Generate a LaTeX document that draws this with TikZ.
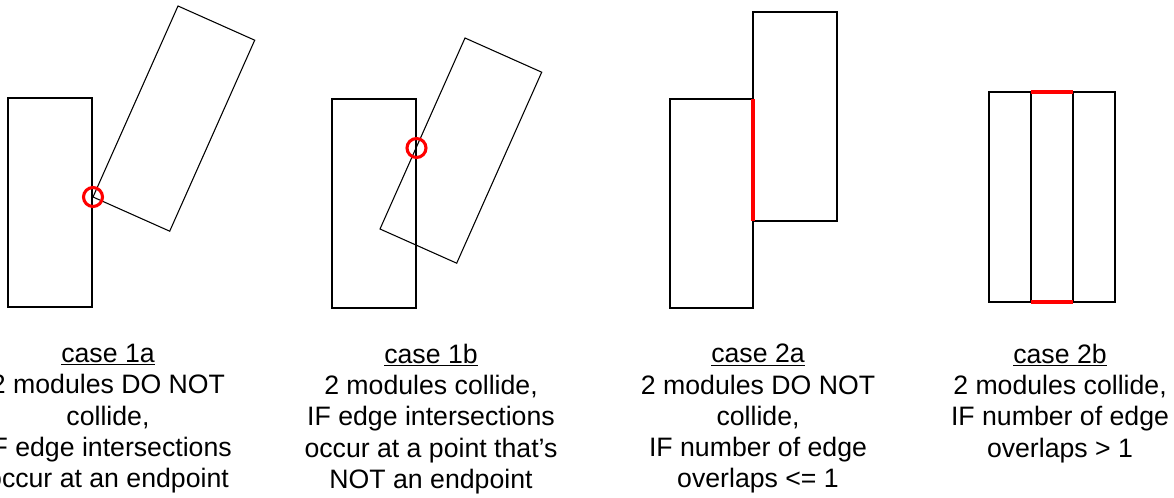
\documentclass[tikz,border=0pt]{standalone}
\usepackage{fontspec}
\setmainfont{Liberation Sans}
\begin{document}
\begin{tikzpicture}[x=0.75pt,y=-0.75pt,
  module/.style={draw=black, line width=0.8pt},
  hit/.style={draw=red, line width=2.3pt},
  caption/.style={align=center, font=\fontsize{20}{23.4}\selectfont, anchor=north, inner sep=0pt}]
\useasboundingbox (0,0) rectangle (1174,498);
\clip (0,0) rectangle (1174,498);

% case 1a
\draw[module] (8,98) rectangle (92,307);
\coordinate (p1a) at (93,197);
\draw[module] (p1a) -- ++(85,-191) -- ++(76.7,34.2) -- ++(-85,191) -- cycle;
\draw[hit] (p1a) circle[radius=9.5];
\node[caption] (cap1a) at (108,344) {\underline{case 1a}\\2 modules DO NOT\\collide,\\IF edge intersections\\occur at an endpoint};

% case 1b
\draw[module] (332,99) rectangle (416,308);
\coordinate (p1b) at (380,229);
\draw[module] (p1b) -- ++(85,-191) -- ++(76.7,34.2) -- ++(-85,191) -- cycle;
\coordinate (x1b) at (416.5,148);
\draw[hit] (x1b) circle[radius=9.5];
\node[caption] (cap1b) at (431,344) {\underline{case 1b}\\2 modules collide,\\IF edge intersections\\occur at a point that’s\\NOT an endpoint};

% case 2a
\draw[module] (670,99) rectangle (753,308);
\draw[module] (753,12) rectangle (837,221);
\draw[hit] (753,99) -- (753,221);
\node[caption] (cap2a) at (758,344) {\underline{case 2a}\\2 modules DO NOT\\collide,\\IF number of edge\\overlaps <= 1};

% case 2b
\draw[module] (989,92) rectangle (1073,302);
\draw[module] (1031,92) rectangle (1115,302);
\draw[hit] (1031,92) -- (1073,92);
\draw[hit] (1031,302) -- (1073,302);
\node[caption] (cap2b) at (1060,344) {\underline{case 2b}\\2 modules collide,\\IF number of edge\\overlaps > 1};
\end{tikzpicture}
\end{document}
